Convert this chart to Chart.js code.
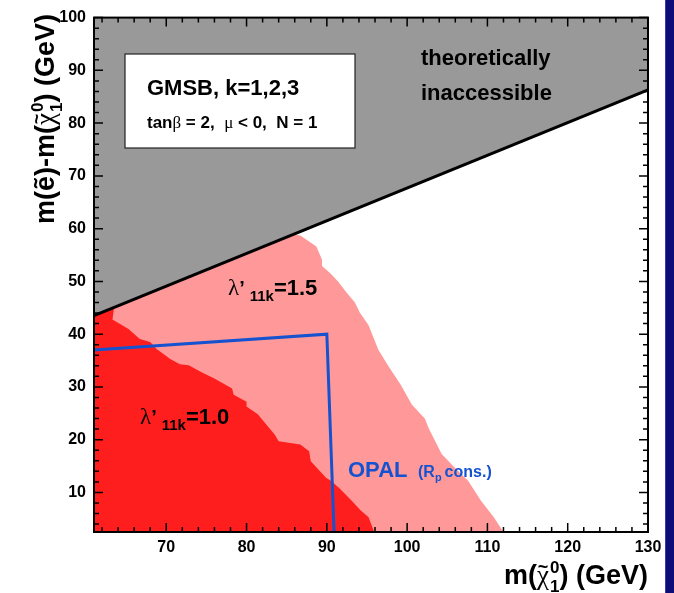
<!DOCTYPE html>
<html>
<head>
<meta charset="utf-8">
<title>GMSB lambda' 11k limits</title>
<script src="https://cdn.jsdelivr.net/npm/chart.js@4.4.1/dist/chart.umd.min.js"></script>
<style>
  body { margin: 0; background: #fff; }
  #wrap { position: relative; width: 674px; height: 593px; }
  #edge { position: absolute; left: 665px; top: 0; width: 9px; height: 593px; background: #0d0d78; border-left: 1px solid #3a3ab0; box-sizing: border-box; }
</style>
</head>
<body>
<div id="wrap">
  <canvas id="plot" width="674" height="593"></canvas>
  <div id="edge"></div>
</div>
<script>
// axis ranges and ticks
const xRange = [61, 130];
const yRange = [2.5, 100];
const xTicks = [70, 80, 90, 100, 110, 120, 130];
const yTicks = [10, 20, 30, 40, 50, 60, 70, 80, 90, 100];

// kinematic limit (above it: theoretically inaccessible)
const limitX = [61, 130];
const limitY = [43.5, 86.3];

// excluded region, lambda'11k = 1.5
const l15X = [61, 85.8, 86.7, 88.7, 89.4, 89.4, 90.4, 91.4, 92.5, 93.5, 94.1, 95.2, 96.4, 97.6, 99.2, 100.6, 102.2, 102.7, 104.3, 106.0, 107.6, 109.2, 110.8, 112.0];
const l15Y = [43.5, 58.9, 58.7, 56.6, 54.1, 52.9, 51.6, 50.0, 47.8, 46.0, 44.1, 41.7, 37.1, 34.1, 30.4, 26.6, 24.0, 22.1, 17.3, 14.6, 12.2, 8.4, 5.3, 2.5];

// excluded region, lambda'11k = 1.0
const l10X = [61, 63.5, 63.3, 65.3, 66.7, 68.0, 68.8, 70.5, 71.7, 72.8, 74.4, 76.0, 78.2, 78.4, 80.0, 80.0, 81.4, 83.5, 84.0, 86.7, 87.8, 88.0, 89.9, 90.5, 91.5, 93.1, 94.2, 95.2, 95.9];
const l10Y = [43.5, 45.0, 42.8, 41.0, 39.1, 38.5, 37.2, 35.3, 34.3, 34.1, 32.8, 31.6, 29.7, 28.5, 27.2, 26.3, 24.8, 21.0, 19.7, 19.1, 17.8, 15.9, 12.8, 12.2, 10.9, 8.4, 6.6, 5.3, 2.5];

// OPAL R-parity conserving limit
const opalX = [61, 90, 90.9];
const opalY = [37, 40, 2.5];

function pts(xs, ys) {
  return xs.map((x, i) => ({ x: x, y: ys[i] }));
}

const SANS = "'Liberation Sans', Arial, sans-serif";
const SERIF = "'Liberation Serif', 'Times New Roman', serif";

// draw a run of text pieces left to right
function drawRun(ctx, parts, x, y) {
  let cx = x;
  parts.forEach(p => {
    ctx.font = p.font;
    ctx.fillText(p.t, cx, y + (p.dy || 0));
    if (!p.stack) cx += ctx.measureText(p.t).width + (p.gap || 0);
  });
  return cx;
}

function runWidth(ctx, parts) {
  let w = 0;
  parts.forEach(p => {
    ctx.font = p.font;
    if (!p.stack) w += ctx.measureText(p.t).width + (p.gap || 0);
  });
  return w;
}

// neutralino symbol parts: chi, sup 0 and sub 1 stacked
function chiParts(size) {
  const s = Math.round(size * 0.62);
  return [
    { t: 'χ', font: size + 'px ' + SERIF, gap: 1 },
    { t: '0', font: 'bold ' + s + 'px ' + SANS, dy: -size * 0.42, stack: true },
    { t: '1', font: 'bold ' + s + 'px ' + SANS, dy: size * 0.28 }
  ];
}

// tilde centred above the chi that follows the prefix
function chiTilde(ctx, prefix, size, x, y) {
  ctx.font = 'bold ' + size + 'px ' + SANS;
  const off = ctx.measureText(prefix).width;
  ctx.font = size + 'px ' + SERIF;
  const cw = ctx.measureText('χ').width;
  ctx.font = 'bold 18px ' + SANS;
  ctx.textAlign = 'center';
  ctx.fillText('~', x + off + cw / 2, y - size * 0.42);
  ctx.textAlign = 'left';
}

const framePlugin = {
  id: 'frame',
  afterDatasetsDraw(chart) {
    const ctx = chart.ctx;
    const a = chart.chartArea;
    const xs = chart.scales.x, ys = chart.scales.y;
    ctx.save();
    ctx.strokeStyle = '#000';
    ctx.lineWidth = 1.5;
    // ticks inside the frame, on all four sides
    for (let v = 62; v <= 130; v += 2) {
      const px = xs.getPixelForValue(v);
      const len = v % 10 === 0 ? 9 : 5;
      ctx.beginPath();
      ctx.moveTo(px, a.bottom); ctx.lineTo(px, a.bottom - len);
      ctx.moveTo(px, a.top); ctx.lineTo(px, a.top + len);
      ctx.stroke();
    }
    for (let v = 4; v <= 100; v += 2) {
      const py = ys.getPixelForValue(v);
      const len = v % 10 === 0 ? 9 : 5;
      ctx.beginPath();
      ctx.moveTo(a.left, py); ctx.lineTo(a.left + len, py);
      ctx.moveTo(a.right, py); ctx.lineTo(a.right - len, py);
      ctx.stroke();
    }
    ctx.lineWidth = 2;
    ctx.strokeRect(a.left, a.top, a.right - a.left, a.bottom - a.top);

    // info box
    ctx.fillStyle = '#fff';
    ctx.fillRect(125, 54, 230, 94);
    ctx.strokeStyle = '#222';
    ctx.lineWidth = 1.2;
    ctx.strokeRect(125, 54, 230, 94);
    ctx.fillStyle = '#000';
    ctx.textBaseline = 'alphabetic';
    ctx.font = 'bold 22px ' + SANS;
    ctx.fillText('GMSB, k=1,2,3', 147, 95);
    drawRun(ctx, [
      { t: 'tan', font: 'bold 17px ' + SANS },
      { t: 'β', font: '17px ' + SERIF },
      { t: ' = 2,  ', font: 'bold 17px ' + SANS },
      { t: 'μ', font: '17px ' + SERIF },
      { t: ' < 0,  N = 1', font: 'bold 17px ' + SANS }
    ], 147, 128);

    ctx.font = 'bold 22px ' + SANS;
    ctx.fillText('theoretically', 421, 65);
    ctx.fillText('inaccessible', 421, 100);

    drawRun(ctx, [
      { t: 'λ', font: '23px ' + SERIF },
      { t: '’', font: 'bold 20px ' + SANS, gap: 5 },
      { t: '11k', font: 'bold 15px ' + SANS, dy: 6 },
      { t: '=1.5', font: 'bold 22px ' + SANS }
    ], 228, 295);
    drawRun(ctx, [
      { t: 'λ', font: '23px ' + SERIF },
      { t: '’', font: 'bold 20px ' + SANS, gap: 5 },
      { t: '11k', font: 'bold 15px ' + SANS, dy: 6 },
      { t: '=1.0', font: 'bold 22px ' + SANS }
    ], 140, 424);

    ctx.fillStyle = '#1552d0';
    ctx.font = 'bold 22px ' + SANS;
    ctx.fillText('OPAL', 348, 477);
    drawRun(ctx, [
      { t: '(R', font: 'bold 16px ' + SANS },
      { t: 'p', font: 'bold 11px ' + SANS, dy: 4, gap: 3 },
      { t: 'cons.)', font: 'bold 16px ' + SANS }
    ], 418, 477);

    // x axis title, right aligned to the frame
    ctx.fillStyle = '#000';
    const tsize = 27;
    const xt = [{ t: 'm(', font: 'bold ' + tsize + 'px ' + SANS }]
      .concat(chiParts(tsize))
      .concat([{ t: ') (GeV)', font: 'bold ' + tsize + 'px ' + SANS }]);
    const xw = runWidth(ctx, xt);
    const x0 = a.right - xw;
    drawRun(ctx, xt, x0, 584);
    chiTilde(ctx, 'm(', tsize, x0, 584);

    // y axis title, rotated, starting near y = 222
    const yt = [{ t: 'm(ẽ)-m(', font: 'bold ' + tsize + 'px ' + SANS }]
      .concat(chiParts(tsize))
      .concat([{ t: ') (GeV)', font: 'bold ' + tsize + 'px ' + SANS }]);
    ctx.save();
    ctx.translate(54, 224);
    ctx.rotate(-Math.PI / 2);
    drawRun(ctx, yt, 0, 0);
    chiTilde(ctx, 'm(ẽ)-m(', tsize, 0, 0);
    ctx.restore();

    ctx.restore();
  }
};

const ctx = document.getElementById('plot').getContext('2d');
new Chart(ctx, {
  type: 'line',
  data: {
    datasets: [
      { data: pts(limitX, limitY), borderColor: '#000', borderWidth: 3, fill: false, order: 0 },
      { data: pts(opalX, opalY), borderColor: '#1552d0', borderWidth: 3, fill: false, order: 1 },
      { data: pts(l10X, l10Y), borderWidth: 0, borderColor: 'rgba(0,0,0,0)', backgroundColor: '#ff1e1e', fill: 'start', order: 2 },
      { data: pts(l15X, l15Y), borderWidth: 0, borderColor: 'rgba(0,0,0,0)', backgroundColor: '#ff9999', fill: 'start', order: 3 },
      { data: pts(limitX, limitY), borderWidth: 0, borderColor: 'rgba(0,0,0,0)', backgroundColor: '#999999', fill: 'end', order: 4 }
    ]
  },
  options: {
    responsive: false,
    animation: false,
    events: [],
    elements: { point: { radius: 0 }, line: { tension: 0 } },
    layout: { padding: { top: 11, right: 26, left: 0, bottom: 0 } },
    plugins: { legend: { display: false }, tooltip: { enabled: false } },
    scales: {
      x: {
        type: 'linear',
        min: xRange[0],
        max: xRange[1],
        grid: { display: false, drawTicks: false },
        border: { display: false },
        afterBuildTicks: s => { s.ticks = xTicks.map(v => ({ value: v })); },
        afterFit: s => { s.height = 61; },
        ticks: { color: '#000', padding: 6, maxRotation: 0, font: { family: SANS, weight: 'bold', size: 16 } }
      },
      y: {
        type: 'linear',
        min: yRange[0],
        max: yRange[1],
        grid: { display: false, drawTicks: false },
        border: { display: false },
        afterBuildTicks: s => { s.ticks = yTicks.map(v => ({ value: v })); },
        afterFit: s => { s.width = 94; },
        ticks: { color: '#000', padding: 8, font: { family: SANS, weight: 'bold', size: 16 } }
      }
    }
  },
  plugins: [framePlugin]
});
</script>
</body>
</html>
